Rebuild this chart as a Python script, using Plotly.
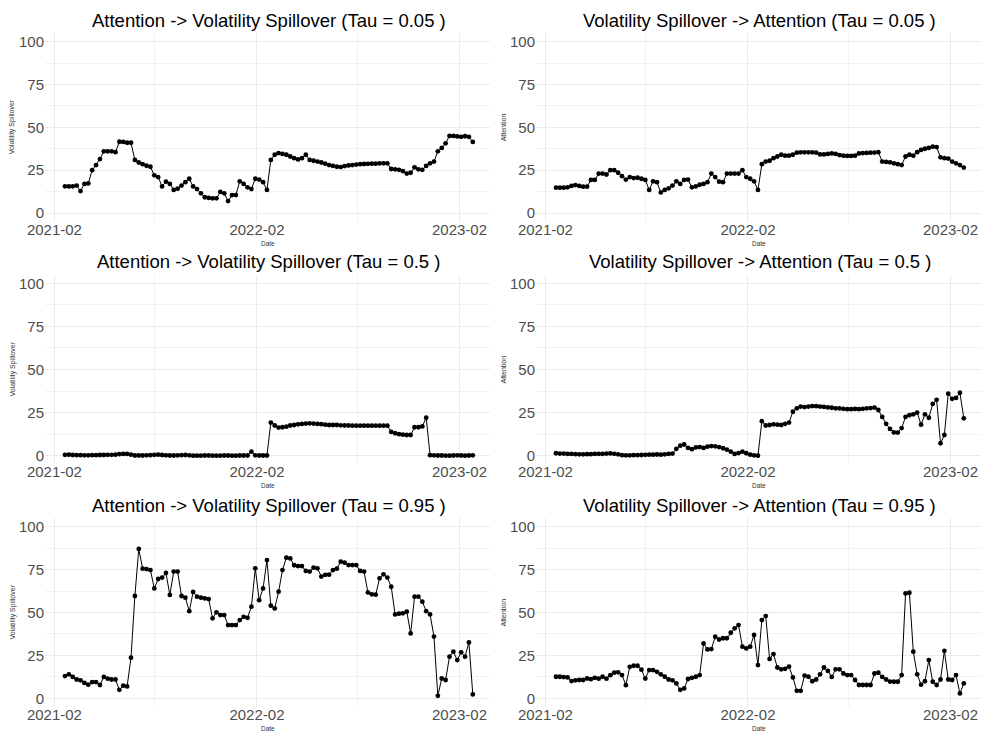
import pandas as pd
import plotly.graph_objects as go

# Weekly observation dates of the rolling causality estimates
dates = pd.date_range("2021-02-20", periods=106, freq="7D")

att_to_vs_q05 = [
    15.6, 15.5, 15.6, 16.0, 12.8, 17.0, 17.3, 25.0, 28.0, 31.5,
    36.0, 36.0, 36.0, 35.5, 41.6, 41.5, 41.0, 41.0, 31.0, 29.5,
    28.5, 27.6, 27.0, 22.0, 21.0, 15.5, 18.3, 17.0, 13.5, 14.2,
    16.0, 18.0, 20.0, 15.5, 14.0, 11.5, 9.2, 8.8, 8.6, 8.6,
    12.3, 11.5, 7.0, 10.5, 10.5, 18.5, 17.0, 15.0, 14.0, 20.0,
    19.5, 18.0, 13.5, 31.0, 34.0, 35.0, 34.5, 34.0, 33.0, 32.0,
    31.3, 32.0, 34.0, 31.0, 30.5, 30.0, 29.5, 28.8, 28.0, 27.5,
    27.0, 26.8, 27.4, 27.8, 28.0, 28.3, 28.5, 28.6, 28.7, 28.8,
    28.8, 29.0, 29.0, 29.0, 25.7, 25.5, 25.2, 24.5, 23.0, 23.5,
    26.7, 25.5, 25.2, 27.5, 29.0, 30.0, 36.0, 38.0, 40.7, 45.0,
    45.0, 44.7, 44.5, 44.8, 44.5, 41.5,
]

vs_to_att_q05 = [
    14.8, 14.8, 14.8, 15.0, 15.8, 16.3, 15.8, 15.4, 15.4, 19.3,
    19.3, 23.0, 23.0, 22.5, 25.0, 25.0, 23.5, 21.5, 19.5, 21.0,
    20.4, 20.6, 20.0, 19.3, 13.5, 18.5, 18.0, 12.0, 13.5, 14.4,
    16.0, 18.5, 17.0, 19.3, 19.5, 15.0, 15.5, 16.5, 17.0, 18.0,
    23.0, 21.0, 18.3, 18.0, 23.0, 23.0, 23.0, 23.0, 25.0, 21.0,
    20.0, 18.5, 13.5, 28.5, 30.0, 30.5, 32.0, 33.0, 34.0, 33.5,
    33.5, 34.0, 35.2, 35.4, 35.4, 35.4, 35.4, 35.2, 34.2, 34.2,
    34.5, 34.8, 34.5, 33.8, 33.5, 33.3, 33.3, 33.5, 34.8, 35.0,
    35.1, 35.2, 35.3, 35.5, 30.0, 29.8, 29.6, 29.0, 28.5, 28.0,
    33.0, 34.0, 33.5, 35.5, 36.8, 37.5, 38.0, 38.7, 38.5, 32.5,
    32.0, 31.8, 30.0, 29.0, 28.0, 26.5,
]

att_to_vs_q50 = [
    0.5, 0.6, 0.4, 0.3, 0.3, 0.2, 0.2, 0.3, 0.3, 0.4,
    0.4, 0.5, 0.5, 0.6, 0.9, 1.0, 1.0, 0.6, 0.1, 0.1,
    0.1, 0.2, 0.3, 0.5, 0.6, 0.4, 0.2, 0.1, 0.1, 0.2,
    0.3, 0.4, 0.2, 0.0, 0.0, 0.0, 0.1, 0.1, 0.0, 0.0,
    0.0, 0.1, 0.1, 0.0, 0.0, 0.1, 0.1, 0.1, 2.3, 0.2,
    0.1, 0.1, 0.1, 19.2, 17.5, 16.3, 16.5, 16.8, 17.5, 17.8,
    18.2, 18.4, 18.6, 18.8, 18.6, 18.4, 18.3, 18.0, 17.8, 17.8,
    17.8, 17.6, 17.5, 17.5, 17.4, 17.4, 17.4, 17.4, 17.4, 17.4,
    17.4, 17.4, 17.4, 17.4, 13.8, 13.0, 12.5, 12.2, 12.0, 12.0,
    16.5, 16.5, 17.0, 22.0, 0.3, 0.2, 0.1, 0.1, 0.0, 0.0,
    0.1, 0.2, 0.1, 0.0, 0.1, 0.2,
]

vs_to_att_q50 = [
    1.4, 1.2, 1.2, 1.0, 1.0, 0.9, 0.8, 0.8, 0.9, 0.9,
    1.0, 1.1, 1.0, 1.2, 1.3, 1.1, 0.8, 0.3, 0.2, 0.2,
    0.3, 0.3, 0.4, 0.5, 0.6, 0.6, 0.7, 0.6, 0.8, 1.0,
    1.2, 4.0, 5.8, 6.5, 4.5, 3.8, 4.8, 5.0, 4.5, 5.2,
    5.6, 5.4, 5.0, 4.3, 3.5, 2.3, 1.0, 1.5, 2.3, 1.4,
    0.6, 0.2, 0.0, 20.0, 17.5, 17.8, 18.2, 18.0, 17.8, 18.5,
    19.2, 25.5, 27.5, 28.5, 28.2, 28.5, 28.8, 28.7, 28.5, 28.3,
    28.0, 27.8, 27.5, 27.4, 27.2, 27.0, 27.0, 27.1, 27.0, 27.2,
    27.5, 27.6, 27.9, 26.5, 22.5, 18.5, 15.5, 13.5, 13.4, 16.0,
    22.5, 23.5, 24.0, 25.0, 18.0, 24.0, 22.0, 30.0, 32.4, 7.2,
    12.0, 36.0, 33.0, 33.5, 36.5, 21.7,
]

att_to_vs_q95 = [
    13.0, 14.0, 12.5, 11.0, 10.5, 9.0, 8.0, 9.5, 9.5, 7.8,
    12.5, 11.5, 11.0, 11.0, 5.0, 7.4, 7.0, 23.7, 59.6, 87.0,
    75.5, 75.3, 74.7, 64.0, 69.5, 70.3, 73.0, 60.2, 73.8, 73.8,
    59.6, 58.6, 50.8, 62.0, 59.2, 58.6, 58.2, 57.8, 46.6, 50.1,
    48.5, 48.5, 42.7, 42.7, 42.7, 45.6, 47.5, 46.9, 53.4, 75.7,
    57.2, 64.0, 80.5, 54.0, 52.4, 62.1, 74.7, 81.9, 81.5, 77.5,
    77.0, 77.0, 74.2, 73.8, 76.1, 75.7, 70.9, 71.9, 72.0, 74.7,
    75.5, 79.6, 79.0, 77.6, 77.6, 77.6, 74.2, 73.8, 61.7, 60.6,
    60.4, 69.9, 72.2, 70.3, 65.0, 48.9, 49.3, 49.5, 50.5, 37.8,
    59.2, 59.2, 56.3, 50.8, 48.9, 36.0, 1.5, 11.6, 10.7, 24.3,
    27.2, 22.3, 26.8, 24.3, 32.6, 2.3,
]

vs_to_att_q95 = [
    12.6, 12.6, 12.4, 12.2, 10.1, 10.5, 10.7, 10.7, 11.6, 11.2,
    12.0, 11.5, 12.6, 11.5, 13.5, 15.0, 15.2, 13.6, 7.7, 18.4,
    19.0, 19.0, 16.7, 11.6, 16.5, 16.5, 15.5, 14.0, 12.6, 11.0,
    10.5, 8.7, 5.0, 5.8, 11.3, 12.0, 12.6, 13.6, 32.0, 28.5,
    28.7, 35.9, 34.3, 35.0, 35.0, 38.2, 40.8, 42.7, 30.1, 29.1,
    30.1, 36.9, 19.4, 45.6, 47.9, 23.0, 25.8, 18.0, 16.9, 17.2,
    18.5, 12.2, 4.4, 4.4, 13.3, 12.6, 10.0, 11.0, 14.0, 18.0,
    16.0, 12.5, 16.9, 16.9, 14.5, 13.6, 13.6, 10.7, 7.8, 7.8,
    7.8, 7.8, 14.5, 15.0, 12.5, 11.0, 9.8, 9.7, 9.7, 13.6,
    61.1, 61.5, 27.2, 14.0, 8.0, 10.0, 22.3, 9.7, 7.8, 11.0,
    27.7, 11.0, 10.7, 13.6, 2.9, 8.7,
]

panels = [
    ("Attention -> Volatility Spillover (Tau = 0.05 )", "Volatility Spillover", att_to_vs_q05),
    ("Volatility Spillover -> Attention (Tau = 0.05 )", "Attention", vs_to_att_q05),
    ("Attention -> Volatility Spillover (Tau = 0.5 )", "Volatility Spillover", att_to_vs_q50),
    ("Volatility Spillover -> Attention (Tau = 0.5 )", "Attention", vs_to_att_q50),
    ("Attention -> Volatility Spillover (Tau = 0.95 )", "Volatility Spillover", att_to_vs_q95),
    ("Volatility Spillover -> Attention (Tau = 0.95 )", "Attention", vs_to_att_q95),
]

W, H = 982, 733
FONT = "Liberation Sans, Arial, sans-serif"
# panel extents in pixels: (left, right) per column, (top, bottom) per row
col_px = [(45, 490), (536, 981)]
row_px = [(33.1, 221.6), (274.7, 464.3), (518.0, 707.0)]

fig = go.Figure()
layout = dict(
    width=W, height=H,
    margin=dict(l=0, r=0, t=0, b=0),
    paper_bgcolor="white", plot_bgcolor="white",
    showlegend=False,
    font=dict(family=FONT),
    annotations=[],
)

for i, (title, ytitle, vals) in enumerate(panels):
    r, c = divmod(i, 2)
    n = i + 1
    xa = "x" if n == 1 else f"x{n}"
    ya = "y" if n == 1 else f"y{n}"
    xl, xr = col_px[c]
    yt, yb = row_px[r]

    fig.add_trace(go.Scatter(
        x=dates, y=vals, xaxis=xa, yaxis=ya,
        mode="lines+markers",
        line=dict(color="black", width=1.0),
        marker=dict(color="black", size=4.8),
        hoverinfo="skip",
    ))

    layout["xaxis" if n == 1 else f"xaxis{n}"] = dict(
        domain=[xl / W, xr / W],
        anchor=ya,
        automargin=False,
        range=["2021-01-15", "2023-03-28"],
        tick0="2021-02-01", dtick="M12", tickformat="%Y-%m",
        showgrid=True, gridcolor="#ebebeb", gridwidth=1.1,
        minor=dict(dtick="M6", tick0="2021-02-01", showgrid=True,
                   gridcolor="#f3f3f3", gridwidth=0.6),
        zeroline=False, showline=False, ticks="",
        ticklabelstandoff=-3,
        tickfont=dict(size=15, color="#4d4d4d", family=FONT),
        fixedrange=True,
    )
    layout["yaxis" if n == 1 else f"yaxis{n}"] = dict(
        domain=[1 - yb / H, 1 - yt / H],
        anchor=xa,
        automargin=False,
        range=[-5, 105],
        tick0=0, dtick=25,
        showgrid=True, gridcolor="#ebebeb", gridwidth=1.1,
        minor=dict(dtick=12.5, showgrid=True, gridcolor="#f3f3f3", gridwidth=0.6),
        zeroline=False, showline=False, ticks="",
        tickfont=dict(size=15, color="#4d4d4d", family=FONT),
        fixedrange=True,
    )

    cx = (xl + xr) / 2
    layout["annotations"] += [
        dict(text=title, xref="paper", yref="paper",
             x=(cx + 1) / W, y=1 - (yt - 13) / H,
             xanchor="center", yanchor="middle", showarrow=False,
             font=dict(size=18.5, color="black", family=FONT)),
        dict(text=ytitle, xref="paper", yref="paper",
             x=(12 + 491 * c) / W, y=1 - ((yt + yb) / 2) / H,
             xanchor="center", yanchor="middle", textangle=-90, showarrow=False,
             font=dict(size=7, color="#333333", family=FONT)),
        dict(text="Date", xref="paper", yref="paper",
             x=cx / W, y=1 - (yb + 21.5) / H,
             xanchor="center", yanchor="middle", showarrow=False,
             font=dict(size=6.5, color="#333333", family=FONT)),
    ]

fig.update_layout(**layout)
fig.write_html("out.html")
